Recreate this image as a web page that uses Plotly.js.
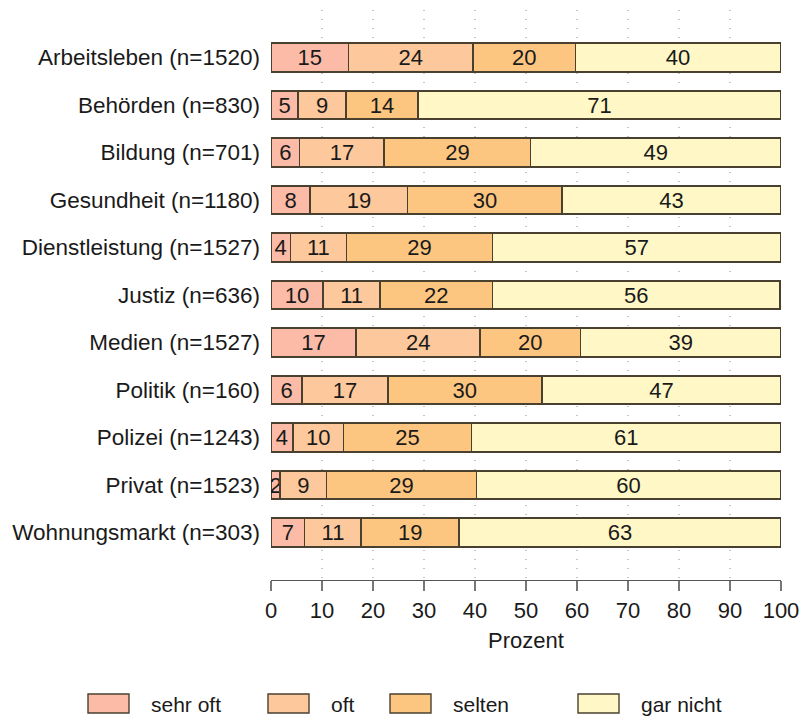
<!DOCTYPE html>
<html>
<head>
<meta charset="utf-8">
<script src="https://cdn.plot.ly/plotly-3.0.1.min.js"></script>
<style>html,body{margin:0;padding:0;background:#fff;}#chart{width:803px;height:716px;}</style>
</head>
<body>
<div id="chart"></div>
<script>
const categories = ["Arbeitsleben (n=1520)","Behörden (n=830)","Bildung (n=701)","Gesundheit (n=1180)","Dienstleistung (n=1527)","Justiz (n=636)","Medien (n=1527)","Politik (n=160)","Polizei (n=1243)","Privat (n=1523)","Wohnungsmarkt (n=303)"];
const seriesNames = ["sehr oft","oft","selten","gar nicht"];
const sehrOft  = [15.2, 5.3, 5.6, 7.7, 3.8, 10.2, 16.7, 6.1, 4.3, 1.8, 6.6];
const oft      = [24.4, 9.4, 16.6, 19.1, 11.0, 11.2, 24.3, 16.8, 9.9, 9.1, 11.1];
const selten   = [20.1, 14.1, 28.7, 30.3, 28.6, 22.0, 19.7, 30.2, 25.1, 29.4, 19.2];
const garNicht = [40.2, 71.2, 49.1, 42.9, 56.6, 56.4, 39.3, 46.9, 60.7, 59.6, 63.1];
const xTicks = [0,10,20,30,40,50,60,70,80,90,100];
const colors = ["#FBBBA7","#FCC89C","#FDC680","#FFF8C6"];

const seriesValues = [sehrOft, oft, selten, garNicht];
const font = "Liberation Sans, Arial, sans-serif";
const fs = 22;

const traces = seriesValues.map((vals, i) => ({
  type: "bar",
  orientation: "h",
  name: seriesNames[i],
  y: categories,
  x: vals,
  text: vals.map(v => String(Math.round(v))),
  textposition: "inside",
  insidetextanchor: "middle",
  textangle: 0,
  constraintext: "none",
  textfont: {family: font, size: fs, color: "#1a1a1a"},
  marker: {color: colors[i], line: {color: "#4a4030", width: 1.6}},
  hoverinfo: "x+y+name",
  showlegend: false
}));

// manual legend (wide swatches like the reference)
const L = 271, R = 781, T = 10, B = 580;
const px = p => (p - L) / (R - L);
const py = p => (B - p) / (B - T);
const legendX = [88, 268, 390, 578];
const shapes = [];
const annotations = [];
seriesNames.forEach((n, i) => {
  shapes.push({type: "rect", xref: "paper", yref: "paper",
    x0: px(legendX[i]), x1: px(legendX[i] + 41), y0: py(713), y1: py(694),
    fillcolor: colors[i], line: {color: "#4a4030", width: 1.4}});
  annotations.push({xref: "paper", yref: "paper", x: px(legendX[i] + 61), y: py(704),
    xanchor: "left", yanchor: "middle", showarrow: false, text: n,
    font: {family: font, size: 21, color: "#1a1a1a"}});
});

const layout = {
  width: 803, height: 716,
  margin: {l: L, r: 803 - R, t: T, b: 716 - B, pad: 0},
  barmode: "stack",
  bargap: 0.4,
  paper_bgcolor: "#fff", plot_bgcolor: "#fff",
  font: {family: font, size: fs, color: "#1a1a1a"},
  xaxis: {
    range: [0, 100], tickvals: xTicks, ticktext: xTicks.map(String),
    showgrid: true, gridcolor: "#c4c4c4", griddash: "1px,8px", gridwidth: 1.2,
    zeroline: false, showline: true, linecolor: "#555", linewidth: 1.3,
    ticks: "outside", ticklen: 10, tickcolor: "#777", tickwidth: 1.3,
    tickfont: {family: font, size: fs, color: "#1a1a1a"},
    title: {text: "Prozent", font: {family: font, size: fs, color: "#1a1a1a"}, standoff: 11},
    fixedrange: true
  },
  yaxis: {
    type: "category", categoryorder: "array", categoryarray: categories,
    range: [categories.length, -1],
    showgrid: false, zeroline: false, showline: false, ticks: "",
    ticklabelstandoff: 10,
    tickfont: {family: font, size: 22.5, color: "#1a1a1a"},
    fixedrange: true
  },
  shapes: shapes,
  annotations: annotations,
  showlegend: false
};

Plotly.newPlot("chart", traces, layout, {displayModeBar: false, staticPlot: true});
</script>
</body>
</html>
